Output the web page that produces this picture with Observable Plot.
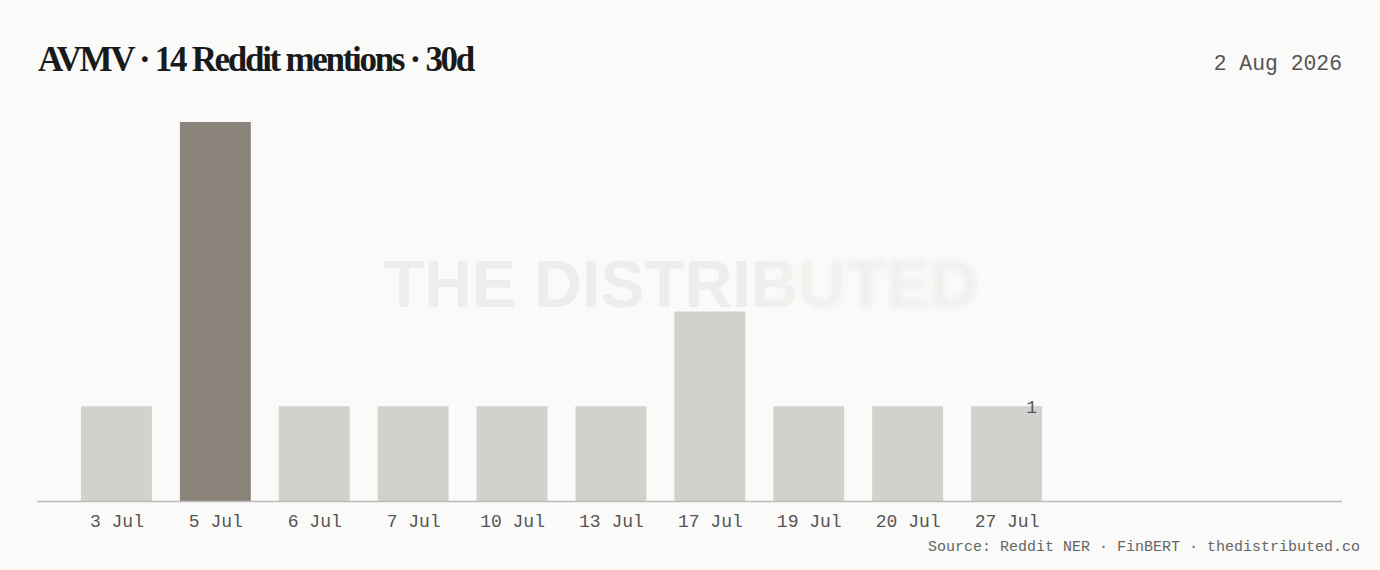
<!DOCTYPE html>
<html>
<head>
<meta charset="utf-8">
<script src="https://cdn.jsdelivr.net/npm/d3@7"></script>
<script src="https://cdn.jsdelivr.net/npm/@observablehq/plot@0.6"></script>
<style>
  html, body { margin: 0; padding: 0; background: #fafaf8; }
  #wrap { position: relative; width: 1380px; height: 570px; overflow: hidden; background: #fafaf8; }
  #title { position: absolute; left: 38px; top: 38px; font-family: "Liberation Serif", serif; font-weight: 700; font-size: 35px; letter-spacing: -2.3px; color: #1a1a1a; line-height: 44px; white-space: nowrap; }
  #date { position: absolute; right: 38px; top: 50px; font-family: "Liberation Mono", monospace; font-size: 21.4px; color: #555; line-height: 28px; }
  #chart { position: absolute; left: 0; top: 100px; }
  #caption { position: absolute; right: 20px; top: 538px; font-family: "Liberation Mono", monospace; font-size: 15px; color: #666; line-height: 20px; white-space: nowrap; }
  .wm { position: absolute; left: 384px; top: 244px; font-family: "Liberation Sans", Arial, sans-serif; font-weight: 700; font-size: 66px; color: #ededeb; line-height: 80px; white-space: nowrap; pointer-events: none; }
  .wm.sharp { -webkit-mask-image: linear-gradient(to right, #000 0%, #000 62%, transparent 82%); mask-image: linear-gradient(to right, #000 0%, #000 62%, transparent 82%); }
  .wm.soft { filter: blur(3px); -webkit-mask-image: linear-gradient(to right, transparent 62%, #000 82%); mask-image: linear-gradient(to right, transparent 62%, #000 82%); }
</style>
</head>
<body>
<div id="wrap">
  <div class="wm sharp">THE DISTRIBUTED</div>
  <div class="wm soft">THE DISTRIBUTED</div>
  <div id="title"></div>
  <div id="date"></div>
  <div id="chart"></div>
  <div id="caption"></div>
</div>
<script>
const titleText = "AVMV · 14 Reddit mentions · 30d";
const dateText = "2 Aug 2026";
const captionText = "Source: Reddit NER · FinBERT · thedistributed.co";
const days = ["3 Jul", "5 Jul", "6 Jul", "7 Jul", "10 Jul", "13 Jul", "17 Jul", "19 Jul", "20 Jul", "27 Jul"];
const mentions = [1, 4, 1, 1, 1, 1, 2, 1, 1, 1];

document.getElementById("title").textContent = titleText;
document.getElementById("date").textContent = dateText;
document.getElementById("caption").textContent = captionText;

const data = days.map((d, i) => ({day: d, n: mentions[i]}));
const maxN = d3.max(mentions);
const last = data[data.length - 1];

const chart = Plot.plot({
  width: 1380,
  height: 434,
  marginLeft: 37,
  marginRight: 38,
  marginTop: 22,
  marginBottom: 33,
  style: { background: "transparent", fontFamily: "Liberation Mono, monospace", fontSize: "18px", color: "#555" },
  x: { domain: days, range: [37, 1086], paddingInner: 0.283, paddingOuter: 0.445, round: false, label: null },
  y: { domain: [0, maxN], axis: null },
  marks: [
    Plot.barY(data, { x: "day", y: "n", fill: d => d.n === maxN ? "#8a847a" : "#d2d1cd" }),
    Plot.ruleY([0], { stroke: "#bdbcb8", strokeWidth: 1.5 }),
    Plot.text([last], { x: "day", y: "n", text: d => String(d.n), textAnchor: "end", dx: 30, fill: "#555", fontSize: 18 }),
    Plot.axisX({ tickSize: 0, tickPadding: 13, fill: "#555", fontSize: 18, label: null })
  ]
});
document.getElementById("chart").appendChild(chart);
</script>
</body>
</html>
